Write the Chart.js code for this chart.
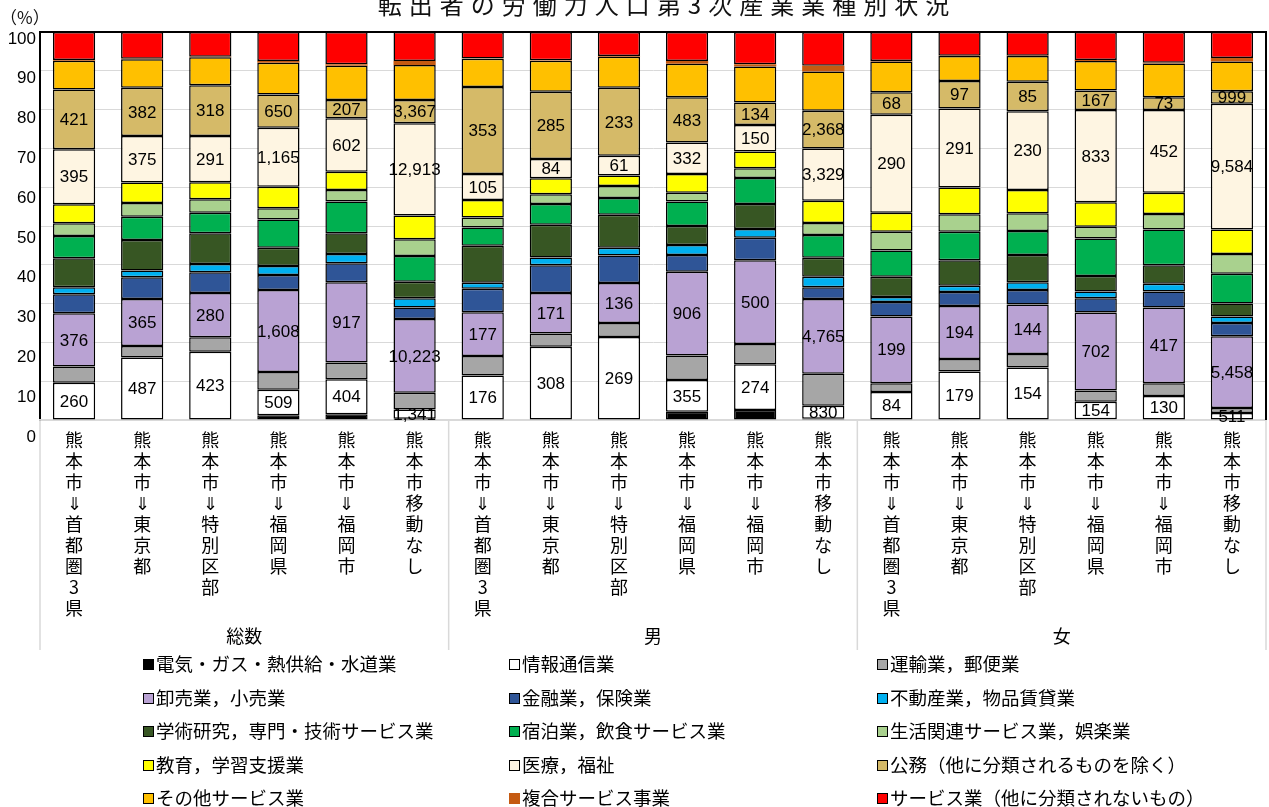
<!DOCTYPE html>
<html lang="ja">
<head>
<meta charset="utf-8">
<title>転出者の労働力人口第3次産業業種別状況</title>
<script src="https://cdn.jsdelivr.net/npm/chart.js@4.4.1/dist/chart.umd.min.js"></script>
<style>
  body { margin: 0; background: #fff; }
  #wrap { position: relative; width: 1269px; height: 807px; overflow: hidden; }
  #title { position: absolute; left: 0; width: 1334px; top: -8px; text-align: center;
           font: 24px 'Noto Sans CJK JP', sans-serif; letter-spacing: 7px; color: #111; line-height: 1; }
  #unit { position: absolute; left: 0; top: 4px; font: 17px 'Noto Sans CJK JP', sans-serif; color: #111; }
  .lg { position: absolute; font: 18.5px 'Noto Sans CJK JP', sans-serif; color: #000; white-space: nowrap; line-height: 22px; }
  .lg i { display: inline-block; width: 9px; height: 9px; border: 1px solid #000; margin-right: 2px; vertical-align: 1px; }
</style>
</head>
<body>
<div id="wrap">
  <canvas id="myChart" width="1269" height="807"></canvas>
  <div id="title">転出者の労働力人口第3次産業業種別状況</div>
  <div id="unit">（%）</div>
  <div id="legend"></div>
</div>
<script>
// categories
const places = ['熊本市⇓首都圏3県', '熊本市⇓東京都', '熊本市⇓特別区部', '熊本市⇓福岡県', '熊本市⇓福岡市', '熊本市移動なし'];
const labels = [...places, ...places, ...places];
const groups = ['総数', '男', '女'];
const yTicks = [0, 10, 20, 30, 40, 50, 60, 70, 80, 90, 100];

// shares in % (bottom to top)
const elec = [0.1, 0, 0, 1.2, 1.5, 0.3, 0.1, 0, 0.1, 2.1, 2.6, 0.3, 0, 0, 0, 0.2, 0.1, 0.1];
const info = [9.5, 16.1, 17.6, 6.6, 9.0, 2.4, 11.4, 18.9, 21.3, 8.2, 11.8, 3.4, 7.2, 12.5, 13.5, 4.5, 6.1, 1.7];
const transport = [4.2, 3.0, 3.7, 4.6, 4.3, 4.3, 5.0, 3.4, 3.6, 6.3, 5.2, 8.2, 2.3, 3.2, 3.5, 2.9, 3.3, 1.3];
const retail = [13.7, 12.1, 11.4, 21.1, 20.7, 19.0, 11.3, 10.4, 10.3, 21.6, 21.6, 19.3, 17.2, 13.7, 12.8, 20.1, 19.5, 18.5];
const finance = [4.9, 5.6, 5.4, 3.9, 4.9, 3.0, 6.0, 7.2, 7.1, 4.3, 5.8, 3.0, 3.7, 3.6, 3.7, 3.7, 4.1, 3.4];
const realEstate = [1.8, 1.7, 2.1, 2.3, 2.4, 2.4, 1.6, 2.0, 2.0, 2.6, 2.2, 2.7, 1.3, 1.6, 2.0, 1.7, 2.0, 1.7];
const research = [7.5, 7.9, 7.9, 4.7, 5.3, 4.2, 9.5, 8.4, 8.5, 4.9, 6.5, 4.9, 5.2, 6.6, 7.0, 4.0, 4.8, 3.3];
const hospitality = [5.7, 6.0, 5.3, 7.3, 8.2, 6.7, 4.7, 5.4, 4.3, 6.3, 6.7, 5.9, 6.8, 7.3, 6.2, 9.7, 9.2, 7.7];
const lifestyle = [3.3, 3.5, 3.5, 2.9, 3.0, 4.3, 2.6, 2.5, 3.1, 2.3, 2.5, 3.1, 4.8, 4.5, 4.6, 3.0, 4.0, 5.1];
const education = [4.9, 5.3, 4.4, 5.5, 4.7, 6.1, 4.5, 4.1, 2.7, 4.8, 4.3, 5.7, 4.9, 6.9, 6.0, 6.3, 5.5, 6.3];
const medical = [14.2, 12.0, 11.9, 15.2, 13.8, 23.8, 6.7, 5.0, 5.1, 8.1, 6.8, 13.5, 25.3, 20.4, 20.3, 23.8, 21.3, 32.4];
const publicService = [15.4, 12.4, 13.1, 8.6, 4.7, 6.0, 22.4, 17.3, 17.5, 11.7, 5.8, 9.7, 5.8, 7.1, 7.6, 5.0, 3.3, 3.2];
const otherServices = [7.4, 7.4, 7.2, 8.2, 8.8, 9.0, 7.3, 8.0, 8.0, 8.6, 9.3, 10.1, 7.9, 6.4, 6.6, 7.6, 8.7, 7.7];
const compound = [0.2, 0.1, 0.1, 0.4, 0.4, 1.0, 0.1, 0.1, 0.2, 0.7, 0.6, 1.5, 0.1, 0.1, 0.1, 0.3, 0.2, 0.9];
const services = [7.2, 6.9, 6.4, 7.5, 8.3, 7.5, 6.8, 7.3, 6.2, 7.5, 8.3, 8.7, 7.5, 6.1, 6.1, 7.2, 7.9, 6.7];

// head counts printed on some segments
const infoCounts = [260, 487, 423, 509, 404, 1341, 176, 308, 269, 355, 274, 830, 84, 179, 154, 154, 130, 511];
const retailCounts = [376, 365, 280, 1608, 917, 10223, 177, 171, 136, 906, 500, 4765, 199, 194, 144, 702, 417, 5458];
const medicalCounts = [395, 375, 291, 1165, 602, 12913, 105, 84, 61, 332, 150, 3329, 290, 291, 230, 833, 452, 9584];
const publicCounts = [421, 382, 318, 650, 207, 3367, 353, 285, 233, 483, 134, 2368, 68, 97, 85, 167, 73, 999];

const series = [
    ['電気・ガス・熱供給・水道業', elec, '#000000', null],
    ['情報通信業', info, '#FFFFFF', infoCounts],
    ['運輸業，郵便業', transport, '#A6A6A6', null],
    ['卸売業，小売業', retail, '#B9A2D3', retailCounts],
    ['金融業，保険業', finance, '#2F5597', null],
    ['不動産業，物品賃貸業', realEstate, '#00B0F0', null],
    ['学術研究，専門・技術サービス業', research, '#375623', null],
    ['宿泊業，飲食サービス業', hospitality, '#00B050', null],
    ['生活関連サービス業，娯楽業', lifestyle, '#A9D18E', null],
    ['教育，学習支援業', education, '#FFFF00', null],
    ['医療，福祉', medical, '#FEF5E2', medicalCounts],
    ['公務（他に分類されるものを除く）', publicService, '#D5BA68', publicCounts],
    ['その他サービス業', otherServices, '#FFC000', null],
    ['複合サービス事業', compound, '#C55A11', null],
    ['サービス業（他に分類されないもの）', services, '#FF0000', null]
];

const datasets = series.map(s => ({
    label: s[0],
    data: s[1],
    backgroundColor: s[2],
    borderColor: '#000',
    borderWidth: s[0] === '複合サービス事業' ? 0 : 1.5,
    borderSkipped: false,
    barPercentage: 0.62,
    categoryPercentage: 1,
    counts: s[3]
}));

const JP = "'Noto Sans CJK JP', sans-serif";
const NUM = "'Liberation Sans', Arial, sans-serif";

// draws the counts, the plot frame and the group separators
const extras = {
    id: 'extras',
    afterDatasetsDraw(chart) {
        const ctx = chart.ctx;
        ctx.save();
        ctx.font = '17px ' + NUM;
        ctx.fillStyle = '#000';
        ctx.textAlign = 'center';
        ctx.textBaseline = 'middle';
        chart.data.datasets.forEach((ds, i) => {
            if (!ds.counts) return;
            chart.getDatasetMeta(i).data.forEach((bar, j) => {
                const y = (bar.y + bar.base) / 2;
                ctx.fillText(ds.counts[j].toLocaleString('en-US'), bar.x, y + 1);
            });
        });
        ctx.restore();
    },
    afterDraw(chart) {
        const ctx = chart.ctx;
        const a = chart.chartArea;
        const x = chart.scales.x;
        const bottom = chart.scales.x2.bottom;
        ctx.save();
        ctx.strokeStyle = '#000';
        ctx.lineWidth = 2;
        ctx.beginPath();
        ctx.moveTo(a.left - 1, a.top);
        ctx.lineTo(a.right + 1, a.top);
        ctx.moveTo(a.right, a.top);
        ctx.lineTo(a.right, a.bottom);
        ctx.stroke();
        ctx.strokeStyle = '#D9D9D9';
        ctx.lineWidth = 1.5;
        ctx.beginPath();
        [0, 6, 12, 18].forEach(k => {
            let px;
            if (k === 0) px = a.left;
            else if (k === 18) px = a.right;
            else px = (x.getPixelForValue(k - 1) + x.getPixelForValue(k)) / 2;
            ctx.moveTo(px, a.bottom);
            ctx.lineTo(px, bottom);
        });
        ctx.stroke();
        ctx.restore();
    }
};

const ctx = document.getElementById('myChart').getContext('2d');
var myChart = new Chart(ctx, { // eslint-disable-line
    type: 'bar',
    data: { labels: labels, datasets: datasets },
    plugins: [extras],
    options: {
        responsive: false,
        animation: false,
        layout: { padding: { top: 32, left: 0, right: 3, bottom: 157 } },
        plugins: { legend: { display: false }, tooltip: { enabled: false }, title: { display: false } },
        scales: {
            y: {
                stacked: true,
                min: 0,
                max: 100,
                weight: 0,
                afterFit: s => { s.width = 0; },
                afterBuildTicks: s => { s.ticks = yTicks.map(v => ({ value: v })); },
                ticks: { display: false },
                grid: { color: '#D9D9D9', lineWidth: 1, drawTicks: false },
                border: { color: '#000', width: 2 }
            },
            // tick labels of the original sit on a slightly wider spacing than the grid
            yLabels: {
                type: 'linear',
                position: 'left',
                weight: 1,
                min: 4.26,
                max: 101.76,
                afterFit: s => { s.width = 40; },
                afterBuildTicks: s => { s.ticks = yTicks.map(v => ({ value: v })); },
                ticks: { font: { size: 17, family: NUM }, color: '#000', padding: 4 },
                grid: { display: false, drawTicks: false },
                border: { display: false }
            },
            x: {
                stacked: true,
                offset: true,
                afterFit: s => { s.height = 205; },
                ticks: {
                    autoSkip: false,
                    maxRotation: 0,
                    minRotation: 0,
                    padding: 10,
                    color: '#000',
                    font: { size: 18, family: JP, lineHeight: '21px' },
                    callback: function (v) { return this.getLabelForValue(v).split(''); }
                },
                grid: { display: false, drawTicks: false },
                border: { color: '#D9D9D9', width: 1.5 }
            },
            x2: {
                type: 'category',
                position: 'bottom',
                labels: groups,
                offset: true,
                afterFit: s => { s.height = 25; },
                ticks: { color: '#000', padding: 0, font: { size: 18, family: JP } },
                grid: { display: false, drawTicks: false },
                border: { display: false }
            }
        }
    }
});

// legend, 3 columns, row by row
const legend = document.getElementById('legend');
const colX = [143, 509, 877];
series.forEach((s, i) => {
    const item = document.createElement('div');
    item.className = 'lg';
    item.style.left = colX[i % 3] + 'px';
    item.style.top = (652 + Math.floor(i / 3) * 33.5) + 'px';
    const box = document.createElement('i');
    box.style.background = s[2];
    if (s[0] === '複合サービス事業') box.style.borderColor = s[2];
    item.append(box, document.createTextNode(s[0]));
    legend.append(item);
});
</script>
</body>
</html>
